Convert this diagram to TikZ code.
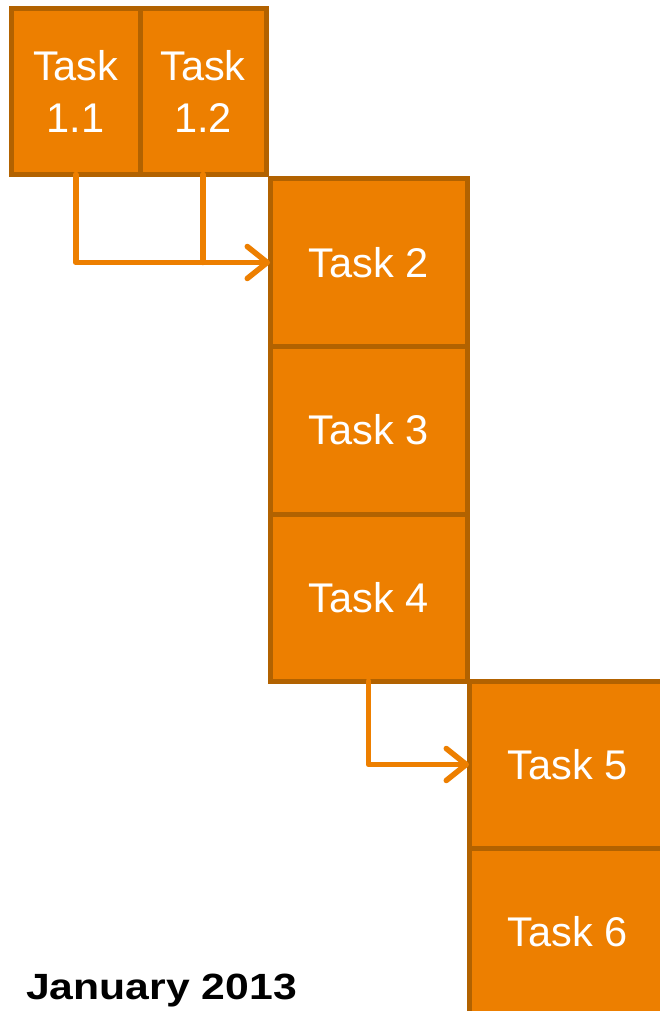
\documentclass[tikz,border=0pt]{standalone}
\usepackage{fontspec}
\setmainfont{Liberation Sans}
\usetikzlibrary{arrows.meta}
\definecolor{taskfill}{RGB}{237,127,0}
\definecolor{taskline}{RGB}{178,98,0}
\begin{document}
\begin{tikzpicture}[x=1pt,y=-1pt,
  taskbox/.style={draw=taskline,fill=taskfill,line width=5pt,inner sep=0pt,outer sep=0pt,
    text=white,align=center,font=\fontsize{41.5}{52}\selectfont},
  flow/.style={draw=taskfill,line width=5.5pt,line cap=round,line join=round},
  tip/.style={-{Straight Barb[length=20pt,width=32pt,round]}}]
\useasboundingbox (0,0) rectangle (660,1011);
\fill[white] (0,0) rectangle (660,1011);
\node[taskbox,minimum width=128.5pt,minimum height=166pt] (T11) at (75.75,91.5) {Task\\1.1};
\node[taskbox,minimum width=126pt,minimum height=166pt] (T12) at (203,91.5) {Task\\1.2};
\node[taskbox,minimum width=197pt,minimum height=167pt] (T2) at (368.5,262.5) {Task 2};
\node[taskbox,minimum width=197pt,minimum height=168pt] (T3) at (368.5,430) {Task 3};
\node[taskbox,minimum width=197pt,minimum height=167pt] (T4) at (368.5,597.5) {Task 4};
\node[taskbox,minimum width=197pt,minimum height=167pt] (T5) at (567.5,764.5) {Task 5};
\node[taskbox,minimum width=197pt,minimum height=167pt] (T6) at (567.5,931.5) {Task 6};
\draw[flow,tip] (T11.south) |- (T2.west);
\draw[flow] (T12.south) -- (T12.south |- T2.west);
\draw[flow,tip] (T4.south) |- (T5.west);
\node[anchor=base west,inner sep=0pt,font=\fontsize{36.5}{40}\selectfont\bfseries] (date) at (26,999) {\scalebox{1.17}[1]{January 2013}};
\end{tikzpicture}
\end{document}
